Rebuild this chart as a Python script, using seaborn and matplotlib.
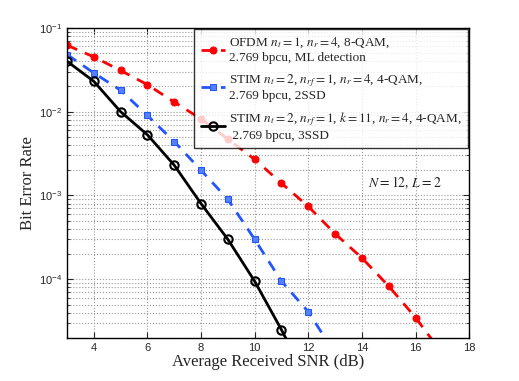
import numpy as np
import pandas as pd
import seaborn as sns
import matplotlib.pyplot as plt
from matplotlib.ticker import LogLocator, NullFormatter

snr = [3, 4, 5, 6, 7, 8, 9, 10, 11, 12, 13, 14, 15, 16, 17]
ber_ofdm = [0.062, 0.045, 0.031, 0.021, 0.013, 0.0082, 0.0047, 0.0027, 0.0014,
            0.00074, 0.00035, 0.00018, 0.000083, 0.000035, 0.000013]
snr_stim2 = [3, 4, 5, 6, 7, 8, 9, 10, 11, 12, 13]
ber_stim2 = [0.048, 0.029, 0.018, 0.009, 0.0044, 0.002, 0.0009, 0.0003,
             0.000095, 0.000041, 0.000013]
snr_stim3 = [3, 4, 5, 6, 7, 8, 9, 10, 11, 12]
ber_stim3 = [0.040, 0.023, 0.010, 0.0053, 0.0023, 0.0008, 0.0003, 0.000095,
             0.000025, 0.000006]

labels = [r"OFDM $n_t=1$, $n_r=4$, 8-QAM," + "\n2.769 bpcu, ML detection",
          r"STIM $n_t=2$, $n_{rf}=1$, $n_r=4$, 4-QAM," + "\n2.769 bpcu, 2SSD",
          r"STIM $n_t=2$, $n_{rf}=1$, $k=11$, $n_r=4$, 4-QAM," + "\n 2.769 bpcu, 3SSD"]

df = pd.concat([
    pd.DataFrame({"snr": snr, "ber": ber_ofdm, "scheme": labels[0]}),
    pd.DataFrame({"snr": snr_stim2, "ber": ber_stim2, "scheme": labels[1]}),
    pd.DataFrame({"snr": snr_stim3, "ber": ber_stim3, "scheme": labels[2]}),
], ignore_index=True)

sns.set_style("white")
plt.rcParams["font.family"] = ["Liberation Serif", "DejaVu Serif"]
plt.rcParams["mathtext.fontset"] = "stix"

fig = plt.figure(figsize=(5.19, 3.81), dpi=100)
ax = fig.add_axes([0.129, 0.113, 0.775, 0.814])

styles = [
    dict(color="#ff0000", linestyle=(0, (4, 3)), marker="o", markersize=5,
         markerfacecolor="#ff0000", markeredgecolor="#ff0000"),
    dict(color="#2255ff", linestyle=(0, (4, 3)), marker="s", markersize=5,
         markerfacecolor="#5580ff", markeredgecolor="#2255ff"),
    dict(color="black", linestyle="-", marker="o", markersize=6,
         markerfacecolor="none", markeredgecolor="black", markeredgewidth=1.5),
]
for lab, st in zip(labels, styles):
    sub = df[df["scheme"] == lab]
    sns.lineplot(data=sub, x="snr", y="ber", ax=ax, label=lab, linewidth=2, **st)

ax.set_yscale("log")
ax.set_xlim(3, 18)
ax.set_ylim(2e-5, 1e-1)
ax.set_xticks([4, 6, 8, 10, 12, 14, 16, 18])
ax.yaxis.set_major_locator(LogLocator(base=10, numticks=10))
ax.yaxis.set_minor_locator(LogLocator(base=10, subs=np.arange(2, 10), numticks=50))
ax.yaxis.set_minor_formatter(NullFormatter())
for lbl in ax.get_xticklabels() + ax.get_yticklabels():
    lbl.set_family("Liberation Sans")
ax.tick_params(axis="both", which="major", labelsize=8, direction="in", length=4)
ax.tick_params(axis="y", which="minor", direction="in", length=2)
ax.yaxis.set_ticks_position("both")
ax.xaxis.set_ticks_position("both")
ax.grid(True, which="major", color="#999999", linestyle=":", linewidth=0.8)
ax.grid(True, which="minor", axis="y", color="#999999", linestyle=":", linewidth=0.8)
for s in ax.spines.values():
    s.set_color("black")
    s.set_linewidth(1.0)

ax.set_xlabel("Average Received SNR (dB)", fontsize=12, labelpad=1)
ax.set_ylabel("Bit Error Rate", fontsize=12, labelpad=2)
ax.text(15.6, 1.0e-3 * 1.25, r"$N=12$, $L=2$", fontsize=10, ha="center")

leg = ax.legend(loc="upper right", fontsize=9.5, frameon=True, fancybox=False,
                edgecolor="black", handlelength=1.8, handletextpad=0.3,
                borderaxespad=0.1, borderpad=0.5, labelspacing=0.6)
leg.get_frame().set_linewidth(1.0)

fig.savefig("out.png", dpi=100)
